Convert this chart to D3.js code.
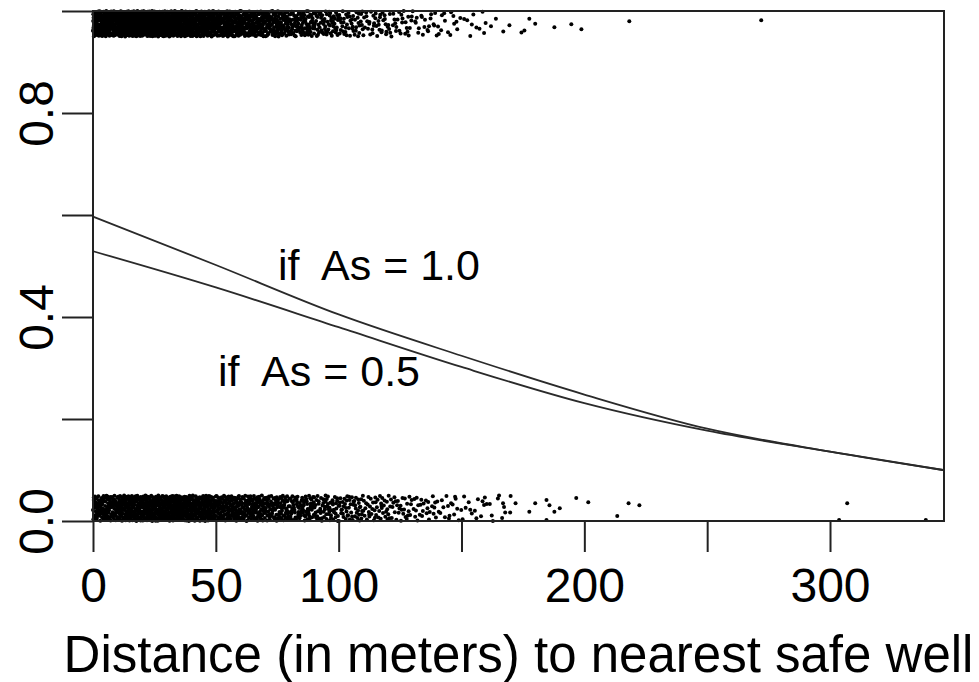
<!DOCTYPE html>
<html>
<head>
<meta charset="utf-8">
<script src="https://cdn.jsdelivr.net/npm/d3@7"></script>
<style>
  body { margin: 0; background: #fff; }
  text { font-family: "Liberation Sans", Arial, sans-serif; }
</style>
</head>
<body>
<div id="chart"></div>
<script>
const width = 979;
const height = 682;

// bins of 10 m, count of wells per bin (read from the dot density)
const binStarts = [0, 10, 20, 30, 40, 50, 60, 70, 80, 90, 100, 110, 120, 130, 140, 150, 160];
const switchedCounts = [190, 230, 240, 220, 190, 160, 130, 100, 80, 60, 45, 35, 28, 20, 14, 10];
const stayedCounts = [120, 150, 160, 155, 140, 120, 100, 85, 70, 60, 50, 40, 32, 25, 18, 13, 10];

// sparse tail points [distance, jittered outcome]
const switchedTail = [
  [162, 0.970], [164, 0.985], [167, 0.960], [169.5, 0.972], [174.4, 0.958],
  [175.6, 0.962], [177.6, 0.985], [180, 0.975], [187.8, 0.968], [194.7, 0.974],
  [198.8, 0.964], [218.3, 0.980], [272, 0.982]
];
const stayedTail = [
  [170, 0.049], [172, 0.035], [166.9, 0.035], [177.6, 0.018], [180, 0.035],
  [184.6, 0.041], [185.8, 0.031], [187.8, 0.018], [190, 0.025], [184.6, 0.002],
  [196.7, 0.045], [201.6, 0.037], [213.4, 0.010], [218, 0.035], [222.4, 0.031],
  [303.7, 0.002], [307, 0.035], [339, 0.002]
];

// fitted curves
const curveX = [0, 50, 100, 150, 200, 250, 300, 346];
const probAs10 = [0.597, 0.502, 0.405, 0.324, 0.248, 0.181, 0.136, 0.100];
const probAs05 = [0.529, 0.458, 0.380, 0.302, 0.231, 0.177, 0.136, 0.100];

const xTicks = [0, 50, 100, 150, 200, 250, 300];
const xLabels = [0, 50, 100, 200, 300];
const yTicks = [0, 0.2, 0.4, 0.6, 0.8, 1.0];
const yLabels = [0, 0.4, 0.8];

const plotLeft = 93, plotRight = 944, plotTop = 11, plotBottom = 521;

const x = d3.scaleLinear().domain([0, 346.4]).range([plotLeft, plotRight]);
const y = d3.scaleLinear().domain([0, 1]).range([plotBottom, plotTop]);

const svg = d3.select("#chart")
  .append("svg")
  .attr("width", width)
  .attr("height", height);

// halton sequence to spread dots inside each bin
function halton(i, b) {
  let f = 1, r = 0;
  while (i > 0) {
    f = f / b;
    r = r + f * (i % b);
    i = Math.floor(i / b);
  }
  return r;
}

function spread(counts, outcome, seed) {
  const pts = [];
  let k = seed;
  counts.forEach(function(n, i) {
    for (let j = 0; j < n; j++) {
      k++;
      const dx = binStarts[i] + 10 * halton(k, 2);
      const jit = 0.05 * halton(k, 3);
      pts.push([dx, outcome === 1 ? 1 - jit : jit]);
    }
  });
  return pts;
}

const dots = spread(switchedCounts, 1, 7)
  .concat(spread(stayedCounts, 0, 4001))
  .concat(switchedTail)
  .concat(stayedTail);

svg.append("g")
  .selectAll("circle")
  .data(dots)
  .enter()
  .append("circle")
  .attr("cx", function(d) { return x(d[0]); })
  .attr("cy", function(d) { return y(d[1]); })
  .attr("r", 2)
  .attr("fill", "#000");

const line = d3.line()
  .x(function(d) { return x(d[0]); })
  .y(function(d) { return y(d[1]); })
  .curve(d3.curveMonotoneX);

[probAs10, probAs05].forEach(function(series) {
  svg.append("path")
    .datum(curveX.map(function(v, i) { return [v, series[i]]; }))
    .attr("d", line)
    .attr("fill", "none")
    .attr("stroke", "#2a2a2a")
    .attr("stroke-width", 1.8);
});

svg.append("text")
  .attr("x", x(75.3))
  .attr("y", y(0.4725))
  .style("white-space", "pre")
  .style("font-size", "43px")
  .text("if  As = 1.0");

svg.append("text")
  .attr("x", x(50.9))
  .attr("y", y(0.265))
  .style("white-space", "pre")
  .style("font-size", "43px")
  .text("if  As = 0.5");

// axes
const xAxis = svg.append("g")
  .attr("transform", "translate(0," + plotBottom + ")")
  .call(d3.axisBottom(x)
    .tickValues(xTicks)
    .tickSize(31)
    .tickSizeOuter(0)
    .tickPadding(16)
    .tickFormat(function(d) { return xLabels.includes(d) ? d : ""; }));

const yAxis = svg.append("g")
  .attr("transform", "translate(" + plotLeft + ",0)")
  .call(d3.axisLeft(y)
    .tickValues(yTicks)
    .tickSize(31)
    .tickSizeOuter(0)
    .tickFormat(function(d) { return yLabels.includes(d) ? d.toFixed(1) : ""; }));

[xAxis, yAxis].forEach(function(g) {
  g.select(".domain").remove();
  g.selectAll(".tick line").attr("stroke", "#222").attr("stroke-width", 2);
  g.selectAll("text")
    .attr("fill", "#000")
    .style("font-size", "48px")
    .style("font-family", "'Liberation Sans', Arial, sans-serif");
});

yAxis.selectAll("text")
  .attr("x", null)
  .attr("dy", null)
  .attr("text-anchor", "middle")
  .attr("transform", "translate(-40,0) rotate(-90)");

svg.append("rect")
  .attr("x", plotLeft)
  .attr("y", plotTop)
  .attr("width", plotRight - plotLeft)
  .attr("height", plotBottom - plotTop)
  .attr("fill", "none")
  .attr("stroke", "#222")
  .attr("stroke-width", 2);

svg.append("text")
  .attr("x", (plotLeft + plotRight) / 2)
  .attr("y", 672)
  .attr("text-anchor", "middle")
  .style("font-size", "51px")
  .text("Distance (in meters) to nearest safe well");
</script>
</body>
</html>
